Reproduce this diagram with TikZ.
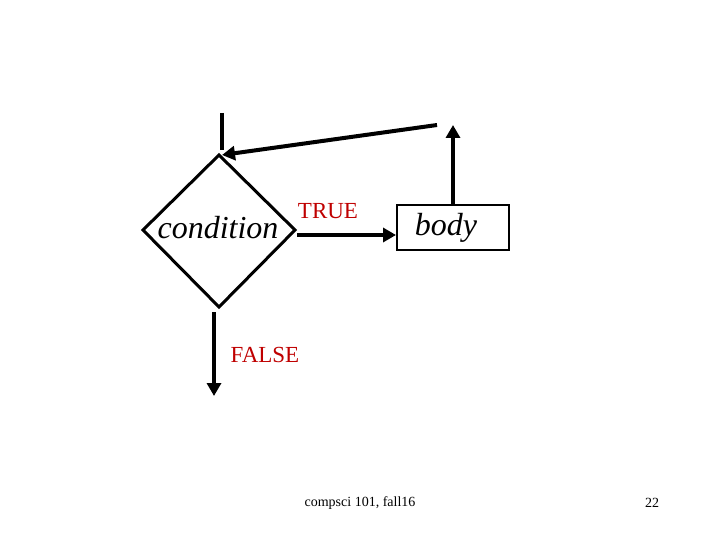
\documentclass[tikz,border=0pt]{standalone}
\usepackage{fontspec}
\setmainfont{Liberation Serif}
\usetikzlibrary{arrows.meta}
\begin{document}
\begin{tikzpicture}[x=1pt,y=-1pt,
  ln/.style={line width=4pt,-{Triangle[length=13pt,width=14pt]}},
  lbl/.style={text=red!75!black,font=\fontsize{23}{25}\selectfont}]
\useasboundingbox (0,0) rectangle (720,540);
\draw[line width=3pt] (219,155) coordinate (dt) -- (295,230) coordinate (dr) -- (219,307) coordinate (db) -- (143,230) coordinate (dl) -- cycle;
\node[draw,line width=2pt,minimum width=112pt,minimum height=45pt,inner sep=0pt] (body) at (453,227.5) {};
\node[font=\itshape\fontsize{32}{34}\selectfont] (cond) at (218,228) {condition};
\node[font=\itshape\fontsize{32}{34}\selectfont] (bt) at (446,228) {body};
\coordinate (top) at (222,113);
\coordinate (tl) at (222,150);
\coordinate (ret) at (437,125);
\coordinate (bodytop) at (453,205);
\coordinate (bodyup) at (453,125);
\coordinate (fstart) at (214,312);
\coordinate (fend) at (214,396);
\draw[line width=4pt] (top) -- (tl);
\draw[ln] (ret) -- (222,155);
\draw[ln] (bodytop) -- (bodyup);
\draw[ln] (297,235) -- (body.west|-0,235);
\draw[ln] (fstart) -- (fend);
\node[lbl] (t) at (328,211) {TRUE};
\node[lbl] (f) at (265,355) {FALSE};
\node[font=\fontsize{14}{16}\selectfont] (foot) at (360,503) {compsci 101, fall16};
\node[font=\fontsize{14}{16}\selectfont] (pg) at (652,503) {22};
\end{tikzpicture}
\end{document}
